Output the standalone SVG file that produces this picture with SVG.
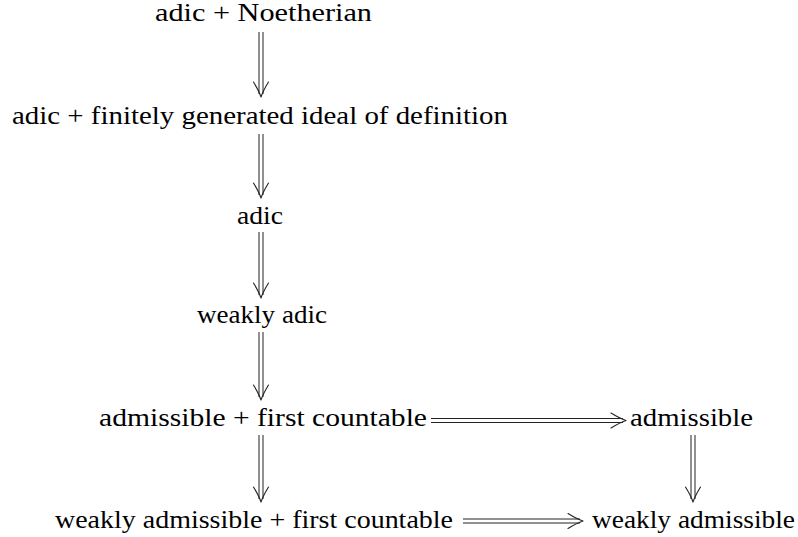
<svg xmlns="http://www.w3.org/2000/svg" width="798" height="537" viewBox="0 0 798 537">
<style>
text{font-family:"Liberation Serif","DejaVu Serif",serif;font-size:25px;fill:#000;text-anchor:middle}
.ln{stroke:#222;stroke-width:1;fill:none}
.hd{stroke:#222;stroke-width:1.1;fill:none;stroke-linecap:round;stroke-linejoin:round}
</style>
<defs>
<g id="vh"><path class="hd" d="M-7.5,-15 Q-2,-6 0,0 Q2,-6 7.5,-15"/></g>
<g id="hh"><path class="hd" d="M-15,-7.5 Q-6,-2 0,0 Q-6,2 -15,7.5"/></g>
</defs>
<rect width="798" height="537" fill="#fff"/>
<g id="n1"><text x="263.5" y="21" textLength="217" lengthAdjust="spacingAndGlyphs">adic + Noetherian</text></g>
<g id="n2"><text x="260" y="124" textLength="496" lengthAdjust="spacingAndGlyphs">adic + finitely generated ideal of definition</text></g>
<g id="n3"><text x="260" y="224" textLength="46" lengthAdjust="spacingAndGlyphs">adic</text></g>
<g id="n4"><text x="262" y="323" textLength="130" lengthAdjust="spacingAndGlyphs">weakly adic</text></g>
<g id="n5"><text x="263" y="426" textLength="328" lengthAdjust="spacingAndGlyphs">admissible + first countable</text></g>
<g id="n6"><text x="691.5" y="426" textLength="123" lengthAdjust="spacingAndGlyphs">admissible</text></g>
<g id="n7"><text x="254" y="528" textLength="398" lengthAdjust="spacingAndGlyphs">weakly admissible + first countable</text></g>
<g id="n8"><text x="693.5" y="528" textLength="203" lengthAdjust="spacingAndGlyphs">weakly admissible</text></g>
<g id="connectors">
<path class="ln" d="M259,32V94M263,32V94"/><use href="#vh" transform="translate(261,97)"/>
<path class="ln" d="M259,134V195M263,134V195"/><use href="#vh" transform="translate(261,198)"/>
<path class="ln" d="M259,232V295M263,232V295"/><use href="#vh" transform="translate(261,298)"/>
<path class="ln" d="M259,332V397M263,332V397"/><use href="#vh" transform="translate(261,400)"/>
<path class="ln" d="M259,435V499M263,435V499"/><use href="#vh" transform="translate(261,502)"/>
<path class="ln" d="M691,435V499M695,435V499"/><use href="#vh" transform="translate(693,502)"/>
<path class="ln" d="M431,418.5H623M431,422.5H623"/><use href="#hh" transform="translate(626,420.5)"/>
<path class="ln" d="M463,519H580M463,523H580"/><use href="#hh" transform="translate(583,521)"/>
</g>
</svg>
